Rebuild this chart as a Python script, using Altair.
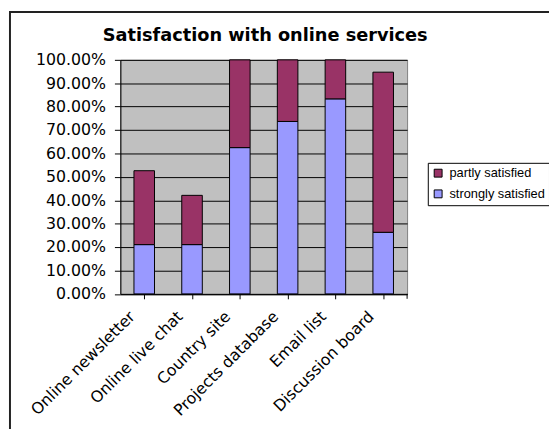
import altair as alt
import pandas as pd

title_text = "Satisfaction with online services"
categories = ["Online newsletter", "Online live chat", "Country site",
              "Projects database", "Email list", "Discussion board"]
strongly = [0.2105, 0.2105, 0.625, 0.7368, 0.8333, 0.2632]
partly = [0.3158, 0.2105, 0.375, 0.2632, 0.1667, 0.6842]
series = ["partly satisfied", "strongly satisfied"]
colors = ["#993366", "#9999FF"]
y_ticks = [0.0, 0.1, 0.2, 0.3, 0.4, 0.5, 0.6, 0.7, 0.8, 0.9, 1.0]

rows = []
for c, s, p in zip(categories, strongly, partly):
    rows.append({"cat": c, "series": "strongly satisfied", "value": s, "rank": 0})
    rows.append({"cat": c, "series": "partly satisfied", "value": p, "rank": 1})
df = pd.DataFrame(rows)
cat_df = pd.DataFrame({"cat": categories})

W, H = 291, 237.5

bars = alt.Chart(df).mark_bar(stroke="black", strokeWidth=1).encode(
    x=alt.X("cat:N", sort=categories, title=None,
            scale=alt.Scale(paddingInner=0.57, paddingOuter=0.285),
            axis=alt.Axis(labelAngle=-45, labelAlign="right", labelBaseline="middle",
                          ticks=False, domainColor="black", domainWidth=1,
                          labelFont="DejaVu Sans", labelFontSize=16, labelColor="black",
                          labelPadding=20, labelOffset=-12, labelLimit=300)),
    y=alt.Y("value:Q", stack="zero", title=None,
            scale=alt.Scale(domain=[0, 1], nice=False),
            axis=alt.Axis(format=".2%", values=y_ticks, labelOverlap=False,
                          grid=True, gridColor="black", gridWidth=1, gridOpacity=1,
                          tickColor="black", tickSize=6, domainColor="black",
                          labelFont="DejaVu Sans", labelFontSize=16, labelColor="black",
                          labelPadding=9)),
    color=alt.Color("series:N", scale=alt.Scale(domain=series, range=colors),
                    legend=alt.Legend(title=None, orient="none", legendX=312, legendY=104.5,
                                      strokeColor="black", fillColor="white", padding=4,
                                      symbolType="square", symbolSize=64,
                                      symbolStrokeColor="black", symbolStrokeWidth=1,
                                      labelFont="Liberation Sans", labelFontSize=13,
                                      labelColor="black", rowPadding=7, labelOffset=5)),
    order=alt.Order("rank:Q", sort="ascending"),
)

ticks = alt.Chart(cat_df).mark_point(opacity=0).encode(
    x=alt.X("cat:N", sort=categories, title=None,
            scale=alt.Scale(paddingInner=0, paddingOuter=0),
            axis=alt.Axis(orient="bottom", bandPosition=0, labels=False, domain=False,
                          grid=False, tickColor="black", tickSize=5)),
    y=alt.value(0),
)

end_tick = alt.Chart(alt.Data(values=[{}])).mark_rule(color="black", strokeWidth=1).encode(
    x=alt.value(W), y=alt.value(H), y2=alt.value(H + 5))

title = alt.Chart(alt.Data(values=[{"t": title_text}])).mark_text(
    font="DejaVu Sans", fontSize=18, fontWeight="bold", color="black",
    align="center", baseline="alphabetic").encode(
    text="t:N", x=alt.value(147), y=alt.value(-19))

border = alt.Chart(alt.Data(values=[{}])).mark_rect(
    fill=None, fillOpacity=0, stroke="#222222", strokeWidth=2).encode(
    x=alt.value(-112), x2=alt.value(445), y=alt.value(-48.5), y2=alt.value(380))

chart = alt.layer(bars, ticks, end_tick, title, border).resolve_scale(x="independent").properties(
    width=W, height=H,
    autosize=alt.AutoSizeParams(type="none"),
    padding={"left": 114, "top": 49.5, "right": 144, "bottom": 134},
    background="white",
).configure_view(fill="#C0C0C0", stroke="#808080", strokeWidth=1)

chart.save("out.html", embed_options={"renderer": "svg", "actions": False})
